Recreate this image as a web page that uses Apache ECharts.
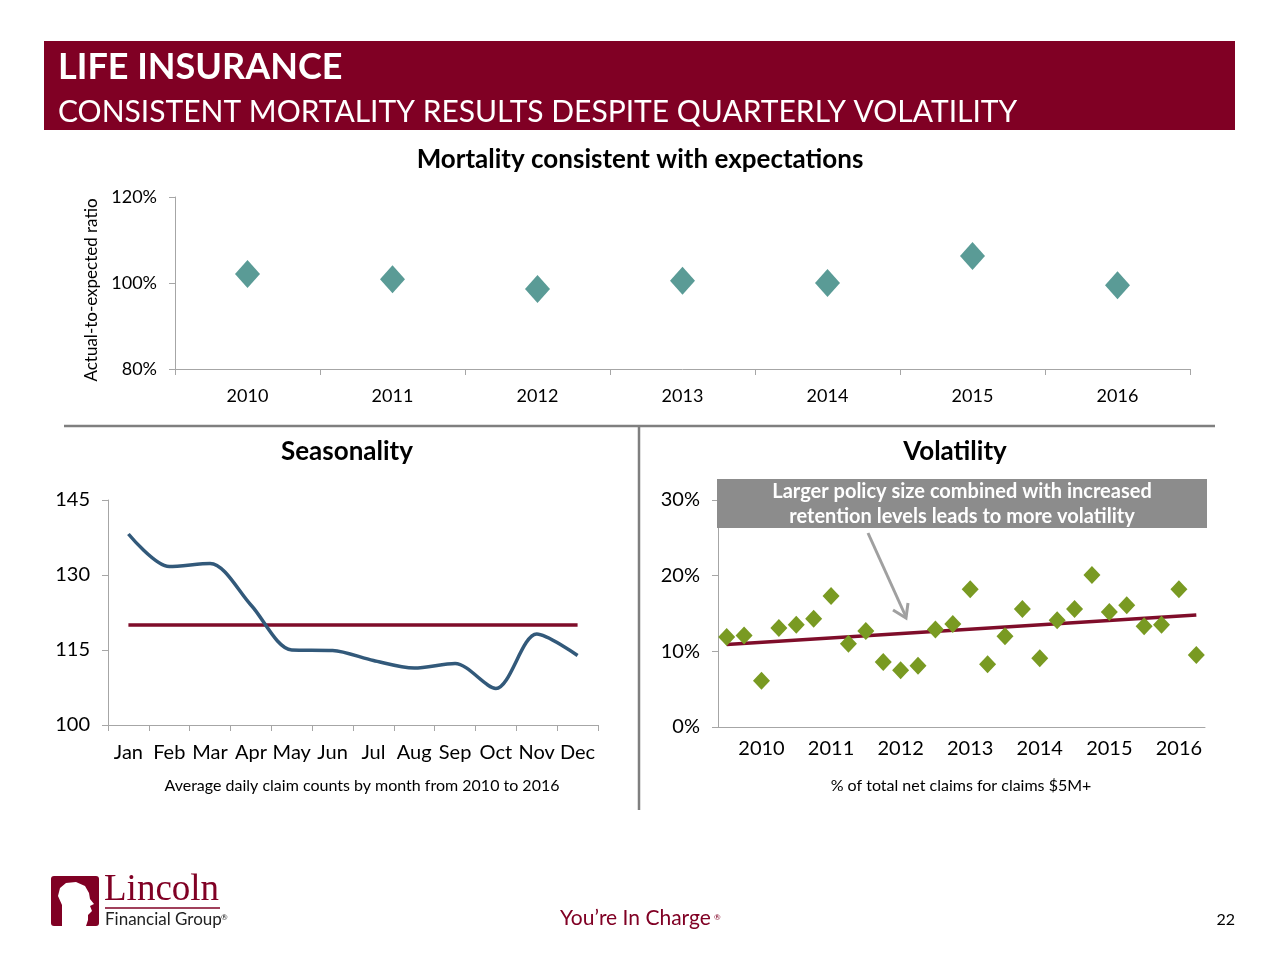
<!DOCTYPE html>
<html><head><meta charset="utf-8">
<script src="https://cdn.jsdelivr.net/npm/echarts@6/dist/echarts.min.js"></script>
<style>html,body{margin:0;padding:0;background:#fff}#c{width:1280px;height:960px}</style>
</head><body><div id="c"></div>
<script>
// ---- data ----
const years = ['2010','2011','2012','2013','2014','2015','2016'];
const aeRatio = [102.1, 100.9, 98.6, 100.5, 100.0, 106.3, 99.5];

const months = ['Jan','Feb','Mar','Apr','May','Jun','Jul','Aug','Sep','Oct','Nov','Dec'];
const dailyClaims = [138.2, 131.7, 132.3, 124.0, 115.0, 114.9, 112.9, 111.4, 112.3, 107.3, 118.2, 113.9];
const dailyAverage = 120;

const quarters = ['2009Q3','2009Q4','2010','2010Q2','2010Q3','2010Q4','2011','2011Q2','2011Q3','2011Q4','2012','2012Q2','2012Q3','2012Q4','2013','2013Q2','2013Q3','2013Q4','2014','2014Q2','2014Q3','2014Q4','2015','2015Q2','2015Q3','2015Q4','2016','2016Q2'];
const largeClaimsPct = [11.9, 12.1, 6.1, 13.1, 13.5, 14.3, 17.3, 11.0, 12.7, 8.6, 7.5, 8.1, 12.9, 13.6, 18.2, 8.3, 12.0, 15.6, 9.1, 14.1, 15.6, 20.1, 15.2, 16.1, 13.3, 13.5, 18.2, 9.5];
const trendStart = 10.9;
const trendEnd = 14.8;

// ---- chart ----
const FONT = 'Lato';
const RED = '#800024';
const chart = echarts.init(document.getElementById('c'));
const trendData = quarters.map((q, i) => i === 0 ? trendStart : (i === quarters.length - 1 ? trendEnd : null));

chart.setOption({
  animation: false,
  textStyle: { fontFamily: FONT },
  title: [
    { text: 'Mortality consistent with expectations', left: 'center', top: 142,
      textStyle: { fontFamily: FONT, fontSize: 26, fontWeight: 'bold', color: '#000' } },
    { text: 'Seasonality', left: 342, textAlign: 'center', top: 434,
      textStyle: { fontFamily: FONT, fontSize: 26, fontWeight: 'bold', color: '#000' } },
    { text: 'Volatility', left: 950, textAlign: 'center', top: 434,
      textStyle: { fontFamily: FONT, fontSize: 26, fontWeight: 'bold', color: '#000' } }
  ],
  grid: [
    { left: 175, top: 197, width: 1015, height: 172 },
    { left: 108, top: 500, width: 490, height: 225 },
    { left: 718, top: 500, width: 487, height: 227 }
  ],
  xAxis: [
    { gridIndex: 0, type: 'category', data: years, boundaryGap: true,
      axisLine: { lineStyle: { color: '#a6a6a6' } },
      axisTick: { show: true, length: 6, lineStyle: { color: '#a6a6a6' } },
      axisLabel: { color: '#000', fontSize: 18, margin: 18 } },
    { gridIndex: 1, type: 'category', data: months, boundaryGap: true,
      axisLine: { lineStyle: { color: '#a6a6a6' } },
      axisTick: { show: true, length: 6, lineStyle: { color: '#a6a6a6' } },
      axisLabel: { color: '#000', fontSize: 20, margin: 18, interval: 0 } },
    { gridIndex: 2, type: 'category', data: quarters, boundaryGap: true,
      axisLine: { lineStyle: { color: '#a6a6a6' } },
      axisTick: { show: false },
      axisLabel: { color: '#000', fontSize: 20, margin: 12,
        interval: (i) => i % 4 === 2, formatter: (v) => v.slice(0, 4) } }
  ],
  yAxis: [
    { gridIndex: 0, type: 'value', min: 80, max: 120, interval: 20,
      name: 'Actual-to-expected ratio', nameLocation: 'middle', nameGap: 73,
      nameTextStyle: { fontSize: 17, color: '#000', padding: [0, 14, 0, 0] },
      axisLine: { show: true, lineStyle: { color: '#a6a6a6' } },
      axisTick: { show: true, length: 6, lineStyle: { color: '#a6a6a6' } },
      splitLine: { show: false },
      axisLabel: { color: '#000', fontSize: 18, margin: 18, formatter: '{value}%' } },
    { gridIndex: 1, type: 'value', min: 100, max: 145, interval: 15,
      axisLine: { show: true, lineStyle: { color: '#a6a6a6' } },
      axisTick: { show: true, length: 6, lineStyle: { color: '#a6a6a6' } },
      splitLine: { show: false },
      axisLabel: { color: '#000', fontSize: 20, margin: 18 } },
    { gridIndex: 2, type: 'value', min: 0, max: 30, interval: 10,
      axisLine: { show: true, lineStyle: { color: '#a6a6a6' } },
      axisTick: { show: true, length: 6, lineStyle: { color: '#a6a6a6' } },
      splitLine: { show: false },
      axisLabel: { color: '#000', fontSize: 20, margin: 18, formatter: '{value}%' } }
  ],
  series: [
    { type: 'scatter', xAxisIndex: 0, yAxisIndex: 0, data: aeRatio,
      symbol: 'diamond', symbolSize: [25, 28], itemStyle: { color: '#5a9b96', opacity: 1 } },
    { type: 'line', xAxisIndex: 1, yAxisIndex: 1, data: months.map(() => dailyAverage),
      symbol: 'none', lineStyle: { color: '#7f0d2a', width: 3.5 } },
    { type: 'line', xAxisIndex: 1, yAxisIndex: 1, data: dailyClaims, smooth: 0.3,
      symbol: 'none', lineStyle: { color: '#32597a', width: 3.5 } },
    { type: 'line', xAxisIndex: 2, yAxisIndex: 2, data: trendData, connectNulls: true,
      symbol: 'none', lineStyle: { color: '#7f0d2a', width: 3.5 }, z: 1 },
    { type: 'scatter', xAxisIndex: 2, yAxisIndex: 2, data: largeClaimsPct,
      symbol: 'diamond', symbolSize: [17, 18], itemStyle: { color: '#799a22', opacity: 1 }, z: 3 }
  ],
  graphic: [
    // header band
    { type: 'rect', shape: { x: 44, y: 41, width: 1191, height: 89 }, style: { fill: RED } },
    { type: 'text', x: 58, y: 49, style: { text: 'LIFE INSURANCE', fill: '#fff',
      font: 'bold 36px Lato' } },
    { type: 'text', x: 58, y: 97, style: { text: 'CONSISTENT MORTALITY RESULTS DESPITE QUARTERLY VOLATILITY',
      fill: '#fff', font: '30px Lato' } },
    // dividers
    { type: 'line', shape: { x1: 64, y1: 426, x2: 1215, y2: 426 }, style: { stroke: '#7f7f7f', lineWidth: 2.5 } },
    { type: 'line', shape: { x1: 639, y1: 426, x2: 639, y2: 810 }, style: { stroke: '#7f7f7f', lineWidth: 2.5 } },
    // chart captions
    { type: 'text', x: 362, y: 786, style: { text: 'Average daily claim counts by month from 2010 to 2016',
      fill: '#000', font: '16px Lato', align: 'center', verticalAlign: 'middle' } },
    { type: 'text', x: 961, y: 786, style: { text: '% of total net claims for claims $5M+',
      fill: '#000', font: '16px Lato', align: 'center', verticalAlign: 'middle' } },
    // annotation
    { type: 'rect', shape: { x: 717, y: 479, width: 490, height: 49 }, style: { fill: '#8c8c8c' }, z: 10 },
    { type: 'text', x: 962, y: 504, z: 11, style: { text: 'Larger policy size combined with increased\nretention levels leads to more volatility',
      fill: '#fff', font: 'bold 20px Lato', align: 'center', verticalAlign: 'middle', lineHeight: 25 } },
    { type: 'polyline', z: 11, shape: { points: [[868, 533], [906, 617]] }, style: { stroke: '#a0a0a0', lineWidth: 3, fill: null } },
    { type: 'polyline', z: 11, shape: { points: [[893, 610], [906, 618], [908, 603]] }, style: { stroke: '#a0a0a0', lineWidth: 3, fill: null } },
    // footer logo
    { type: 'rect', shape: { x: 51, y: 876, width: 48, height: 50, r: 3 }, style: { fill: RED } },
    { type: 'polygon', shape: { points: [[62, 926], [62, 905], [58, 896], [60, 888], [66, 883], [76, 882], [85, 886], [89, 893], [90, 899], [94, 904], [90, 906], [92, 911], [88, 915], [88, 920], [86, 926]] }, style: { fill: '#fff' } },
    { type: 'text', x: 104, y: 872, style: { text: 'Lincoln', fill: RED, font: '37px "Liberation Serif"' } },
    { type: 'line', shape: { x1: 105, y1: 908, x2: 220, y2: 908 }, style: { stroke: RED, lineWidth: 1.5 } },
    { type: 'text', x: 105, y: 911, style: { text: 'Financial Group', fill: '#222', font: '17px Lato' } },
    { type: 'text', x: 221, y: 913, style: { text: '®', fill: '#222', font: '8px Lato' } },
    { type: 'text', x: 560, y: 908, style: { text: 'You’re In Charge', fill: RED, font: '21px Lato' } },
    { type: 'text', x: 714, y: 913, style: { text: '®', fill: RED, font: '8px Lato' } },
    { type: 'text', x: 1235, y: 920, style: { text: '22', fill: '#000', font: '16px Lato', align: 'right', verticalAlign: 'middle' } }
  ]
});
</script></body></html>
